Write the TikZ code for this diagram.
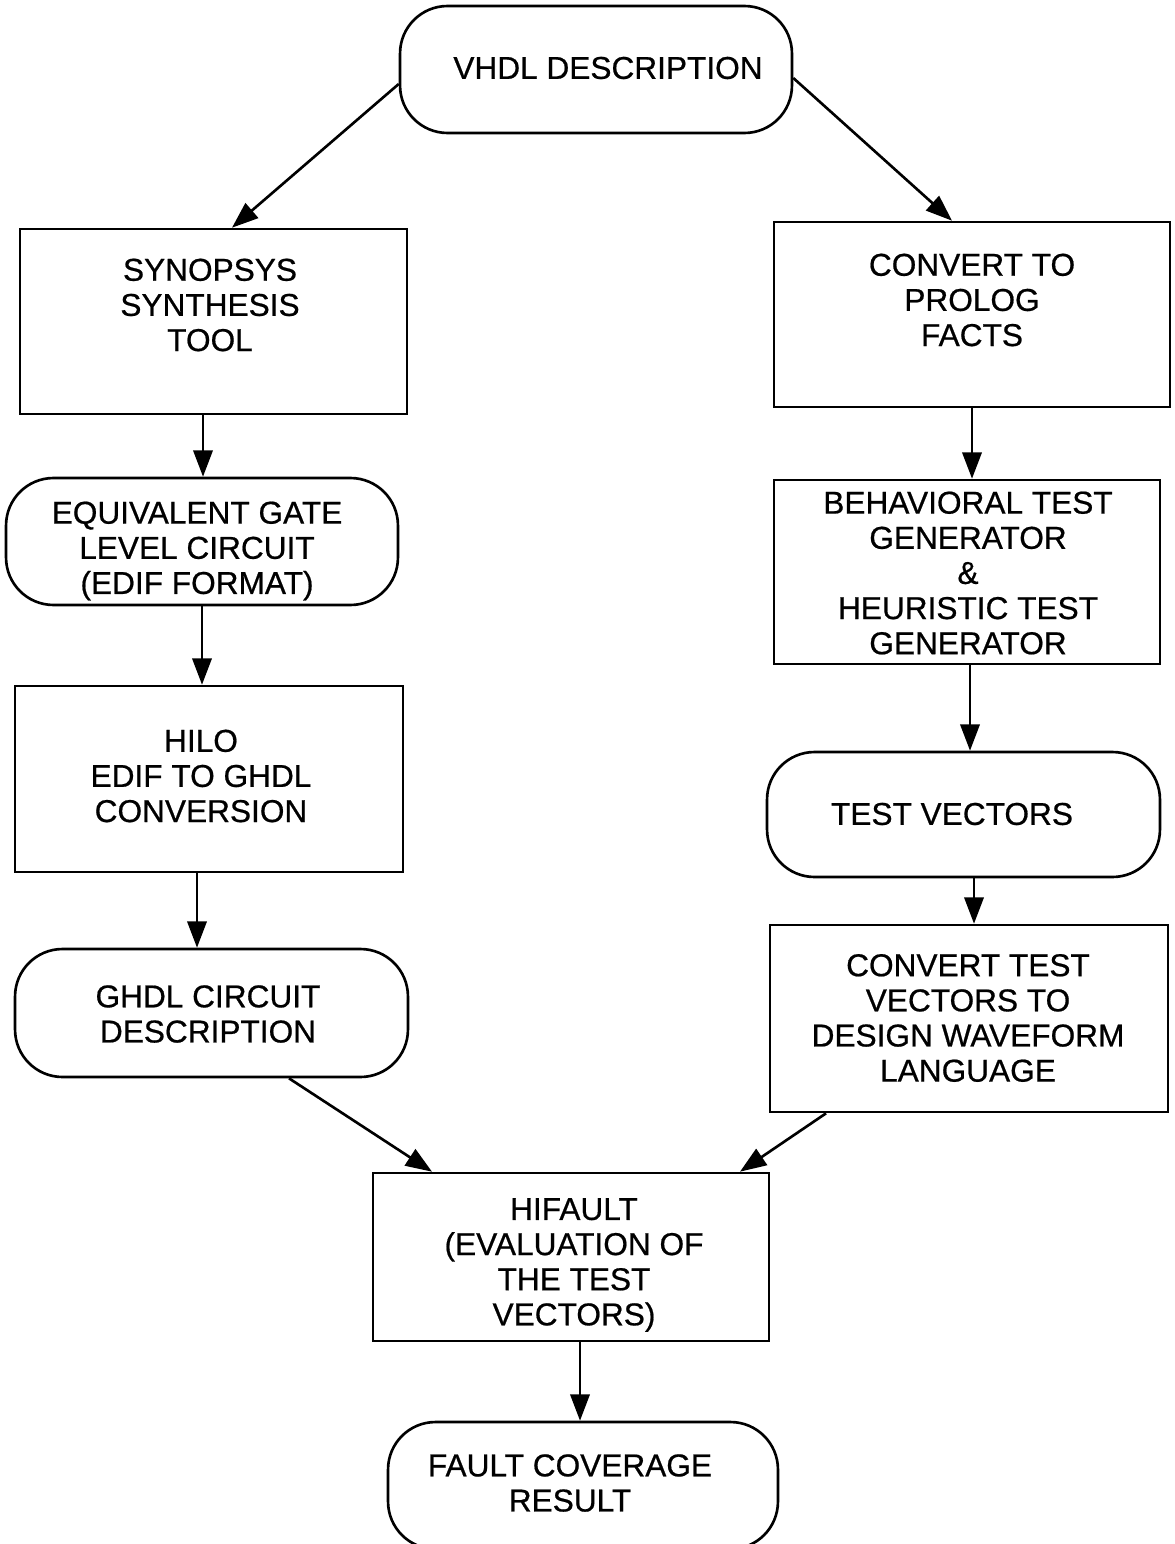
\documentclass[tikz,border=0pt]{standalone}
\usepackage{fontspec}
\setmainfont{Liberation Sans}
\newfontfamily\heavyfont{Liberation Sans}[FakeBold=0.6]
\usetikzlibrary{arrows.meta}
\begin{document}
\begin{tikzpicture}[x=0.02cm,y=-0.02cm,
  box/.style={draw,line width=1.5pt,inner sep=0pt},
  rbox/.style={box,rounded corners=0.95cm},
  lbl/.style={align=center,font=\heavyfont\fontsize{18}{20}\selectfont,inner sep=0pt},
  arr/.style={line width=1.5pt,-{Triangle[length=15pt,width=11pt]}}]
\useasboundingbox (0,0) rectangle (1174,1544);
\clip (0,0) rectangle (1174,1544);
\fill[white] (0,0) rectangle (1174,1544);
% boxes
\node[rbox,minimum width=7.84cm,minimum height=2.54cm] (vhdl) at (596,69.5) {};
\node[box,minimum width=7.74cm,minimum height=3.70cm] (syn) at (213.5,321.5) {};
\node[box,minimum width=7.92cm,minimum height=3.70cm] (prolog) at (972,314.5) {};
\node[rbox,minimum width=7.84cm,minimum height=2.54cm] (equiv) at (202,541.5) {};
\node[box,minimum width=7.72cm,minimum height=3.68cm] (behav) at (967,572) {};
\node[box,minimum width=7.76cm,minimum height=3.72cm] (hilo) at (209,779) {};
\node[rbox,minimum width=7.86cm,minimum height=2.50cm] (testvec) at (963.5,814.5) {};
\node[rbox,minimum width=7.86cm,minimum height=2.56cm] (ghdl) at (211.5,1013) {};
\node[box,minimum width=7.96cm,minimum height=3.74cm] (convtv) at (969,1018.5) {};
\node[box,minimum width=7.92cm,minimum height=3.36cm] (hifault) at (571,1257) {};
\node[rbox,minimum width=7.80cm,minimum height=2.54cm] (fault) at (583,1485.5) {};
% labels
\node[lbl] (t1) at (608,68) {VHDL DESCRIPTION};
\node[lbl] (t2) at (210,305) {SYNOPSYS\\SYNTHESIS\\TOOL};
\node[lbl] (t3) at (972,300) {CONVERT TO\\PROLOG\\FACTS};
\node[lbl] (t4) at (197,551) {EQUIVALENT GATE\\LEVEL CIRCUIT\\(EDIF FORMAT)};
\node[lbl] (t5) at (968,573) {BEHAVIORAL TEST\\GENERATOR\\\&\\HEURISTIC TEST\\GENERATOR};
\node[lbl] (t6) at (201,776) {HILO\\EDIF TO GHDL\\CONVERSION};
\node[lbl] (t7) at (952,814) {TEST VECTORS};
\node[lbl] (t8) at (208,1014) {GHDL CIRCUIT\\DESCRIPTION};
\node[lbl] (t9) at (968,1018) {CONVERT TEST\\VECTORS TO\\DESIGN WAVEFORM\\LANGUAGE};
\node[lbl] (t10) at (574,1265) {HIFAULT\\(EVALUATION OF\\THE TEST\\VECTORS)};
\node[lbl] (t11) at (570,1483) {FAULT COVERAGE\\RESULT};
% connectors
\draw[arr] ([yshift=-0.29cm]vhdl.west) -- ([xshift=0.37cm]syn.north);
\draw[arr] ([yshift=-0.17cm]vhdl.east) -- ([xshift=-0.40cm]prolog.north);
\coordinate (a3) at ([xshift=-0.21cm]syn.south);
\draw[arr] (a3) -- (a3 |- equiv.north);
\draw[arr] (prolog.south) -- (prolog.south |- behav.north);
\draw[arr] (equiv.south) -- (equiv.south |- hilo.north);
\coordinate (a6) at ([xshift=0.06cm]behav.south);
\draw[arr] (a6) -- (a6 |- testvec.north);
\coordinate (a7) at ([xshift=-0.24cm]hilo.south);
\draw[arr] (a7) -- (a7 |- ghdl.north);
\coordinate (a8) at ([xshift=0.21cm]testvec.south);
\draw[arr] (a8) -- (a8 |- convtv.north);
\draw[arr] ([xshift=1.55cm]ghdl.south) -- ([xshift=-2.78cm]hifault.north);
\draw[arr] ([xshift=-2.86cm]convtv.south) -- ([xshift=3.38cm]hifault.north);
\coordinate (a11) at ([xshift=0.18cm]hifault.south);
\draw[arr] (a11) -- (a11 |- fault.north);
\end{tikzpicture}
\end{document}
